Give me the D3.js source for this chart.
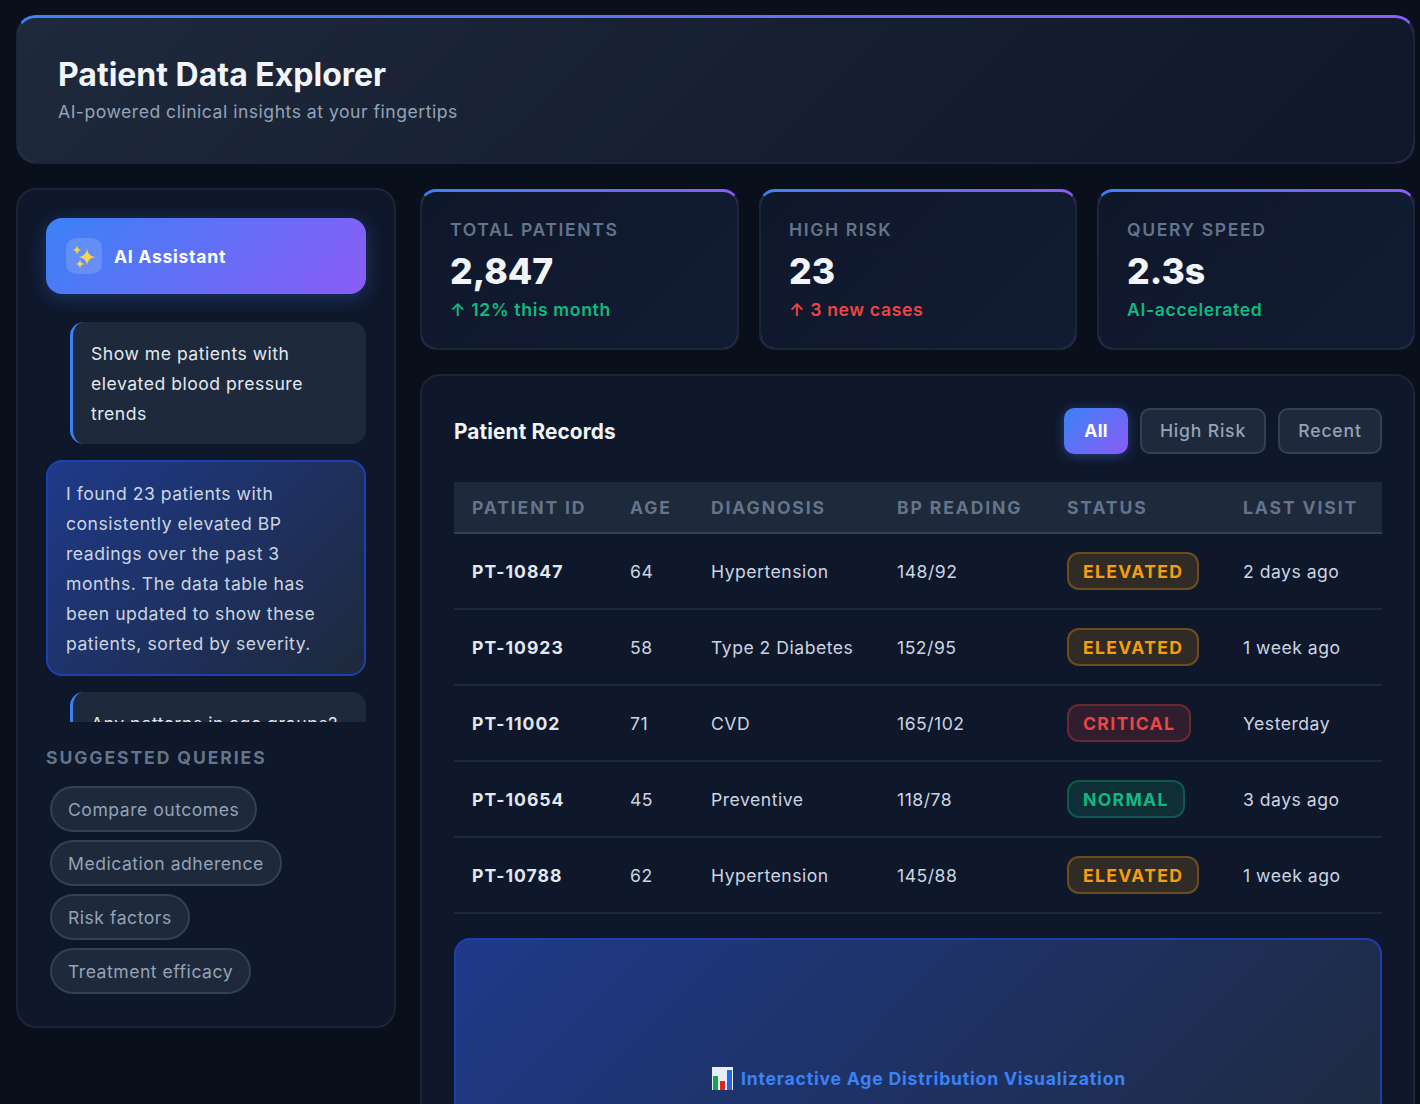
<!DOCTYPE html>
<html>
<head>
<meta charset="utf-8">
<script src="https://cdn.jsdelivr.net/npm/d3@7"></script>
<style>
* { box-sizing: border-box; margin: 0; padding: 0; }
html, body { width: 1420px; height: 1104px; overflow: hidden; background: #0a0f1c; font-family: Inter, sans-serif; letter-spacing: 0.5px; }
.panel { position: absolute; border: 2px solid #1b2537; overflow: hidden; }
.topbar { border-top: 3px solid transparent; }
#header { left: 16px; top: 15px; width: 1399px; height: 149px; border-radius: 20px; background: linear-gradient(135deg, #1e293b, #0f172a) padding-box, linear-gradient(90deg, #3b82f6, #8b5cf6) border-box; }
#header h1 { position: absolute; left: 40px; top: 37px; font-size: 32px; font-weight: 700; color: #f1f5f9; letter-spacing: 0; line-height: 40px; }
#header p { position: absolute; left: 40px; top: 82px; font-size: 17.6px; color: #94a3b8; line-height: 24px; }
#sidebar { left: 16px; top: 188px; width: 380px; height: 840px; border-radius: 20px; background: #0f172a; overflow: visible; }
#ai-head { position: absolute; left: 28px; top: 28px; width: 320px; height: 76px; border-radius: 16px; background: linear-gradient(135deg, #3b82f6, #8b5cf6); box-shadow: 0 4px 20px rgba(59,130,246,.3); }
#ai-icon { position: absolute; left: 20px; top: 20px; width: 36px; height: 36px; border-radius: 10px; background: rgba(255,255,255,.15); }
#ai-head span { position: absolute; left: 68px; top: 27px; font-size: 17.6px; font-weight: 700; color: #fff; line-height: 24px; letter-spacing: 0.7px; }
#messages { position: absolute; left: 28px; top: 132px; width: 320px; height: 400px; overflow: hidden; }
.msg { font-size: 17.6px; line-height: 30px; margin-bottom: 16px; }
.msg.user { margin-left: 24px; background: #1e293b; border-left: 3px solid #3b82f6; border-radius: 14px; padding: 17px 18px 15px; color: #e2e8f0; }
.msg.ai { background: linear-gradient(135deg, #1e3a8a, #1e293b); border: 2px solid #1e40af; border-radius: 16px; padding: 17px 18px 15px; color: #cbd5e1; }
#sq-title { position: absolute; left: 28px; top: 556px; font-size: 17.6px; font-weight: 700; letter-spacing: 1.9px; color: #64748b; line-height: 24px; }
#chips { position: absolute; left: 32px; top: 596px; }
.chip { display: table; height: 46px; line-height: 41px; padding: 1px 16px 0; margin-bottom: 8px; border: 2px solid #334155; border-radius: 23px; background: #1e293b; color: #94a3b8; font-size: 17.6px; }
.card { top: 189px; height: 161px; border-radius: 16px; background: linear-gradient(135deg, #0f172a, #111c33) padding-box, linear-gradient(90deg, #3b82f6, #8b5cf6) border-box; }
.card .lab { position: absolute; left: 28px; top: 26px; font-size: 17.6px; font-weight: 600; letter-spacing: 1.6px; color: #64748b; line-height: 24px; }
.card .val { position: absolute; left: 28px; top: 56px; font-size: 35.6px; font-weight: 800; color: #f1f5f9; line-height: 48px; letter-spacing: 0; }
.card .delta { position: absolute; left: 28px; top: 106px; font-size: 17.6px; font-weight: 600; line-height: 24px; letter-spacing: 0.65px; }
#records { left: 420px; top: 374px; width: 995px; height: 800px; border-radius: 20px; background: #0f172a; }
#records h2 { position: absolute; left: 32px; top: 42px; font-size: 20.8px; font-weight: 700; color: #f1f5f9; line-height: 28px; letter-spacing: 0.13px; }
.btn { position: absolute; top: 32px; height: 46px; line-height: 42px; text-align: center; border-radius: 10px; border: 2px solid #334155; background: #1e293b; color: #94a3b8; font-size: 17.6px; font-weight: 500; letter-spacing: 0.8px; }
.btn.on { border-color: transparent; background: linear-gradient(135deg, #3b82f6, #8b5cf6) border-box; color: #fff; font-weight: 700; letter-spacing: 0.3px; box-shadow: 0 2px 12px rgba(59,130,246,.4); }
table { position: absolute; left: 32px; top: 106px; width: 928px; border-collapse: collapse; table-layout: fixed; }
th { height: 51px; background: #1e293b; border-bottom: 2px solid #334155; text-align: left; padding-left: 18px; font-size: 17.6px; font-weight: 700; letter-spacing: 1.85px; color: #64748b; white-space: nowrap; }
td { height: 76px; border-bottom: 2px solid #1e293b; padding-left: 18px; font-size: 17.6px; color: #cbd5e1; white-space: nowrap; }
td:first-child { font-weight: 700; color: #e2e8f0; letter-spacing: 1px; }
.badge { display: inline-block; height: 38px; line-height: 36px; padding: 0 14px; border-radius: 12px; border: 2px solid; font-weight: 700; letter-spacing: 1.3px; vertical-align: middle; }
#viz { position: absolute; left: 32px; top: 562px; width: 928px; height: 280px; border: 2px solid #1e40af; border-radius: 16px; background: linear-gradient(135deg, #1e3a8a, #1e293b); display: flex; align-items: center; justify-content: center; padding-left: 2px; color: #3b82f6; font-size: 17.6px; font-weight: 700; letter-spacing: 0.8px; }
#viz svg { margin-right: 8px; }
</style>
</head>
<body>
<div id="page"></div>
<script>
const title = 'Patient Data Explorer';
const subtitle = 'AI-powered clinical insights at your fingertips';
const messages = [
  ['user', 'Show me patients with elevated blood pressure trends'],
  ['ai', 'I found 23 patients with consistently elevated BP readings over the past 3 months. The data table has been updated to show these patients, sorted by severity.'],
  ['user', 'Any patterns in age groups?']
];
const queries = ['Compare outcomes', 'Medication adherence', 'Risk factors', 'Treatment efficacy'];
const statLabels = ['TOTAL PATIENTS', 'HIGH RISK', 'QUERY SPEED'];
const statValues = ['2,847', '23', '2.3s'];
const statNotes = ['↑ 12% this month', '↑ 3 new cases', 'AI-accelerated'];
const statColors = ['#10b981', '#ef4444', '#10b981'];
const statLeft = [420, 759, 1097];
const statWidth = [319, 318, 318];
const filters = ['All', 'High Risk', 'Recent'];
const filterLeft = [644, 720, 858];
const filterWidth = [64, 126, 104];
const columns = ['PATIENT ID', 'AGE', 'DIAGNOSIS', 'BP READING', 'STATUS', 'LAST VISIT'];
const columnWidths = [158, 81, 186, 170, 176, 157];
const ids = ['PT-10847', 'PT-10923', 'PT-11002', 'PT-10654', 'PT-10788'];
const ages = [64, 58, 71, 45, 62];
const diagnoses = ['Hypertension', 'Type 2 Diabetes', 'CVD', 'Preventive', 'Hypertension'];
const readings = ['148/92', '152/95', '165/102', '118/78', '145/88'];
const statuses = ['ELEVATED', 'ELEVATED', 'CRITICAL', 'NORMAL', 'ELEVATED'];
const visits = ['2 days ago', '1 week ago', 'Yesterday', '3 days ago', '1 week ago'];

const statusColor = d3.scaleOrdinal()
  .domain(['ELEVATED', 'CRITICAL', 'NORMAL'])
  .range(['#f59e0b', '#ef4444', '#10b981']);

const page = d3.select('#page');

// header
let header = page.append('div').attr('id', 'header').attr('class', 'panel topbar');
header.append('h1').text(title);
header.append('p').text(subtitle);

// sidebar
let sidebar = page.append('div').attr('id', 'sidebar').attr('class', 'panel');
let aiHead = sidebar.append('div').attr('id', 'ai-head');
let sparkle = 'M0 -8 Q1 -1 8 0 Q1 1 0 8 Q-1 1 -8 0 Q-1 -1 0 -8Z';
aiHead.append('div').attr('id', 'ai-icon')
  .append('svg').attr('width', 36).attr('height', 36)
  .selectAll('path')
  .data([[21, 19, 1], [11, 12, .55], [14, 26, .55]])
  .join('path')
    .attr('d', sparkle)
    .attr('fill', '#fbd34d')
    .attr('transform', d => `translate(${d[0]},${d[1]}) scale(${d[2]})`);
aiHead.append('span').text('AI Assistant');

sidebar.append('div').attr('id', 'messages')
  .selectAll('div')
  .data(messages)
  .join('div')
    .attr('class', d => 'msg ' + d[0])
    .text(d => d[1]);

sidebar.append('div').attr('id', 'sq-title').text('SUGGESTED QUERIES');
sidebar.append('div').attr('id', 'chips')
  .selectAll('div')
  .data(queries)
  .join('div')
    .attr('class', 'chip')
    .text(d => d);

// stat cards
let cards = page.selectAll('.card')
  .data(statLabels)
  .join('div')
    .attr('class', 'panel topbar card')
    .style('left', (d, i) => statLeft[i] + 'px')
    .style('width', (d, i) => statWidth[i] + 'px');
cards.append('div').attr('class', 'lab').text(d => d);
cards.append('div').attr('class', 'val').text((d, i) => statValues[i]);
cards.append('div').attr('class', 'delta')
  .style('color', (d, i) => statColors[i])
  .text((d, i) => statNotes[i]);

// records panel
let records = page.append('div').attr('id', 'records').attr('class', 'panel');
records.append('h2').text('Patient Records');
records.selectAll('.btn')
  .data(filters)
  .join('div')
    .attr('class', (d, i) => i === 0 ? 'btn on' : 'btn')
    .style('left', (d, i) => filterLeft[i] - 2 + 'px')
    .style('width', (d, i) => filterWidth[i] + 'px')
    .text(d => d);

let table = records.append('table');
table.append('colgroup').selectAll('col')
  .data(columnWidths)
  .join('col')
    .style('width', d => d + 'px');
table.append('thead').append('tr').selectAll('th')
  .data(columns)
  .join('th')
    .text(d => d);
let rows = table.append('tbody').selectAll('tr')
  .data(ids)
  .join('tr');
rows.append('td').text(d => d);
rows.append('td').text((d, i) => ages[i]);
rows.append('td').text((d, i) => diagnoses[i]);
rows.append('td').text((d, i) => readings[i]);
rows.append('td').append('span')
  .attr('class', 'badge')
  .text((d, i) => statuses[i])
  .style('color', (d, i) => statusColor(statuses[i]))
  .style('background', (d, i) => d3.color(statusColor(statuses[i])).copy({opacity: .15}))
  .style('border-color', (d, i) => d3.color(statusColor(statuses[i])).copy({opacity: .3}));
rows.append('td').text((d, i) => visits[i]);

// chart placeholder
let viz = records.append('div').attr('id', 'viz');
let icon = viz.append('svg').attr('width', 21).attr('height', 23);
icon.append('rect').attr('width', 21).attr('height', 23).attr('fill', '#e8eef6');
icon.selectAll('.b')
  .data([['#16a34a', 1, 14], ['#dc2626', 8, 9], ['#2563eb', 15, 20]])
  .join('rect')
    .attr('class', 'b')
    .attr('x', d => d[1])
    .attr('width', 5)
    .attr('y', d => 23 - d[2])
    .attr('height', d => d[2])
    .attr('fill', d => d[0]);
viz.append('span').text('Interactive Age Distribution Visualization');
</script>
</body>
</html>
